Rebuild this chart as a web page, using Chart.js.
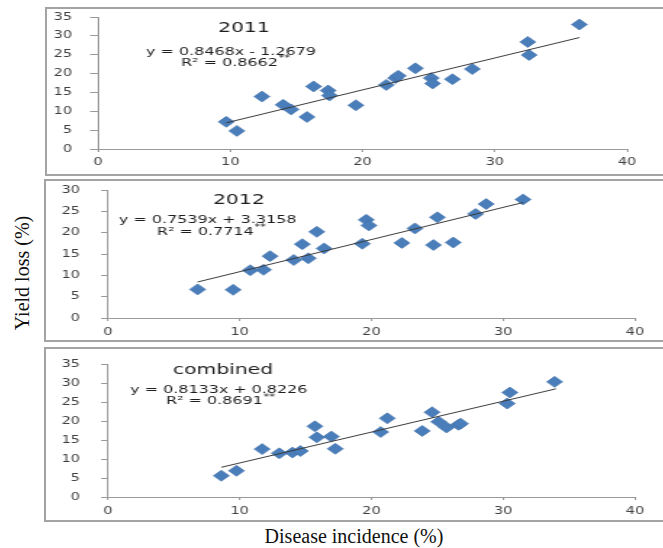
<!DOCTYPE html>
<html lang="en">
<head>
<meta charset="UTF-8" />
<title>Yield loss vs disease incidence</title>
<script src="https://cdn.jsdelivr.net/npm/chart.js"></script>
<style>
  body {
    margin: 0;
    width: 663px;
    height: 548px;
    background: #fff;
    position: relative;
    overflow: hidden;
    font-family: 'Liberation Serif', 'Times New Roman', serif;
  }
  .frame {
    position: absolute;
    box-sizing: border-box;
    border: 2px solid #a3a3a3;
    overflow: hidden;
  }
  .frame canvas {
    position: absolute;
    left: 0;
    top: 0;
    transform-origin: 0 0;
  }
  .title {
    position: absolute;
    white-space: nowrap;
    font-size: 20px;
    color: #111;
  }
  #yTitle { left: 22px; top: 273px; transform: translate(-50%, -50%) rotate(-90deg); }
  #xTitle { left: 354px; top: 536px; transform: translate(-50%, -50%); }
</style>
</head>
<body>

<div class="title" id="yTitle">Yield loss (%)</div>
<div class="title" id="xTitle">Disease incidence (%)</div>

<script>
  // plot canvases are stretched sideways, like the original picture
  const K = 1.45;

  // ---- values ----
  const incidence2011 = [9.7, 10.5, 12.4, 14.0, 14.6, 15.8, 16.3, 17.4, 17.5, 19.5, 21.8, 22.5, 22.7, 24.0, 25.2, 25.3, 26.8, 28.3, 32.5, 32.6, 36.4];
  const loss2011      = [7.2, 4.8, 13.9, 11.7, 10.5, 8.5, 16.6, 15.5, 14.2, 11.6, 17.0, 18.8, 19.4, 21.4, 18.8, 17.4, 18.5, 21.2, 28.4, 24.9, 33.0];
  const trendX2011 = [9.7, 36.4];
  const trendY2011 = [6.95, 29.55];

  const incidence2012 = [6.8, 9.5, 10.8, 11.8, 12.3, 14.1, 15.2, 14.75, 15.85, 16.4, 19.3, 19.6, 19.8, 22.3, 23.3, 24.7, 25.0, 26.2, 27.9, 28.7, 31.5];
  const loss2012      = [6.7, 6.6, 11.2, 11.3, 14.5, 13.6, 14.0, 17.3, 20.2, 16.3, 17.4, 23.0, 21.7, 17.6, 21.0, 17.1, 23.6, 17.7, 24.4, 26.7, 27.8];
  const trendX2012 = [6.8, 31.5];
  const trendY2012 = [8.44, 27.06];

  const incidenceAll = [8.6, 9.75, 11.7, 13.0, 14.0, 14.6, 15.7, 15.85, 16.95, 17.25, 20.7, 21.2, 23.85, 24.6, 25.1, 25.7, 26.6, 26.76, 30.3, 30.5, 33.9];
  const lossAll      = [5.6, 6.9, 12.6, 11.5, 11.7, 12.1, 18.6, 15.7, 15.9, 12.7, 17.1, 20.7, 17.4, 22.3, 19.8, 18.3, 19.0, 19.3, 24.6, 27.5, 30.3];
  const trendXAll = [8.6, 34.0];
  const trendYAll = [7.82, 28.47];

  const yearLabels = ['2011', '2012', 'combined'];
  const equations = ['y = 0.8468x - 1.2679', 'y = 0.7539x + 3.3158', 'y = 0.8133x + 0.8226'];
  const rSquared = ['R² = 0.8662', 'R² = 0.7714', 'R² = 0.8691'];
  const signif = ['**', '**', '**'];
  const xMax = 40;
  const xStep = 10;
  const yMax = [35, 30, 35];
  const yStep = 5;

  const seriesX = [incidence2011, incidence2012, incidenceAll];
  const seriesY = [loss2011, loss2012, lossAll];
  const trendX = [trendX2011, trendX2012, trendXAll];
  const trendY = [trendY2011, trendY2012, trendYAll];

  // ---- page layout (page pixels); text anchors are left edge / middle in axis units ----
  const panels = [
    { frame: { left: 45, top: 7, bottom: 176 }, area: { left: 98, right: 627, top: 17, bottom: 149 },
      yLabelRight: 72, tickLenY: 8, xLabelGap: 13,
      textAt: { title: [9.08, 31.9], eq: [3.63, 25.8], r2: [6.28, 22.7] } },
    { frame: { left: 44, top: 179, bottom: 342 }, area: { left: 108, right: 635, top: 190, bottom: 318 },
      yLabelRight: 80, tickLenY: 7, xLabelGap: 14,
      textAt: { title: [7.97, 27.5], eq: [0.83, 22.9], r2: [3.72, 20.2] } },
    { frame: { left: 44, top: 347, bottom: 522 }, area: { left: 108, right: 635, top: 364, bottom: 497 },
      yLabelRight: 80, tickLenY: 7, xLabelGap: 14,
      textAt: { title: [4.93, 33.3], eq: [1.67, 28.2], r2: [4.4, 25.1] } }
  ];

  const tickFont = { family: 'DejaVu Sans', size: 10 };
  const axisGrey = '#9a9a9a';

  function textPlugin(i, p) {
    return {
      id: 'fitText',
      afterDatasetsDraw(chart) {
        const { ctx, scales: { x, y } } = chart;
        const at = pt => [x.getPixelForValue(pt[0]), y.getPixelForValue(pt[1])];
        ctx.save();
        ctx.fillStyle = '#1e1e1e';
        ctx.textAlign = 'left';
        ctx.textBaseline = 'middle';

        ctx.font = '14px "DejaVu Sans"';
        let [px, py] = at(p.textAt.title);
        ctx.fillText(yearLabels[i], px, py);

        ctx.font = '11px "DejaVu Sans"';
        [px, py] = at(p.textAt.eq);
        ctx.fillText(equations[i], px, py);

        // R² line with superscript stars
        [px, py] = at(p.textAt.r2);
        ctx.fillText(rSquared[i], px, py);
        const mw = ctx.measureText(rSquared[i]).width;
        ctx.font = '8px "DejaVu Sans"';
        ctx.fillText(signif[i], px + mw + 0.5, py - 4);
        ctx.restore();
      }
    };
  }

  panels.forEach((p, i) => {
    const B = 2;
    const frame = document.createElement('div');
    frame.className = 'frame';
    frame.style.left = p.frame.left + 'px';
    frame.style.top = p.frame.top + 'px';
    frame.style.width = (672 - p.frame.left) + 'px';
    frame.style.height = (p.frame.bottom - p.frame.top) + 'px';
    document.body.appendChild(frame);

    const cx = p.frame.left + B;
    const cy = p.frame.top + B;
    const w = Math.round((663 - cx) / K);
    const h = p.frame.bottom - p.frame.top - 2 * B;

    const canvas = document.createElement('canvas');
    canvas.width = w;
    canvas.height = h;
    canvas.style.width = w + 'px';
    canvas.style.height = h + 'px';
    canvas.style.transform = `scaleX(${K})`;
    frame.appendChild(canvas);

    const areaL = (p.area.left - cx) / K;
    const areaR = (p.area.right - cx) / K;
    const areaT = p.area.top - cy;
    const areaB = p.area.bottom - cy;

    new Chart(canvas, {
      type: 'scatter',
      data: {
        datasets: [
          {
            data: seriesX[i].map((x, j) => ({ x, y: seriesY[i][j] })),
            pointStyle: 'rectRot',
            pointRadius: 5.5,
            backgroundColor: '#4a7ebb',
            borderColor: '#3d6ca6',
            borderWidth: 0.6,
            order: 1
          },
          {
            data: trendX[i].map((x, j) => ({ x, y: trendY[i][j] })),
            showLine: true,
            pointRadius: 0,
            borderColor: '#3a3a3a',
            borderWidth: 1,
            order: 0
          }
        ]
      },
      options: {
        responsive: false,
        animation: false,
        devicePixelRatio: 1,
        layout: { padding: { left: 0, top: areaT, right: w - areaR, bottom: 0 } },
        plugins: { legend: { display: false }, tooltip: { enabled: false } },
        scales: {
          x: {
            type: 'linear',
            min: 0,
            max: xMax,
            ticks: { stepSize: xStep, maxRotation: 0, color: '#404040', font: tickFont, padding: p.xLabelGap - 3 - 6 },
            grid: { drawOnChartArea: false, tickLength: 3, color: axisGrey },
            border: { color: axisGrey },
            afterFit: s => { s.height = h - areaB; }
          },
          y: {
            min: 0,
            max: yMax[i],
            ticks: { stepSize: yStep, color: '#404040', font: tickFont, padding: (p.area.left - p.yLabelRight - p.tickLenY) / K },
            grid: { drawOnChartArea: false, tickLength: p.tickLenY / K, color: axisGrey },
            border: { color: axisGrey },
            afterFit: s => {
              s.width = areaL;
              // keep the label padding from pushing the plot area down
              s.paddingTop = 0;
              s.paddingBottom = 0;
            }
          }
        }
      },
      plugins: [textPlugin(i, p)]
    });
  });
</script>

</body>
</html>
